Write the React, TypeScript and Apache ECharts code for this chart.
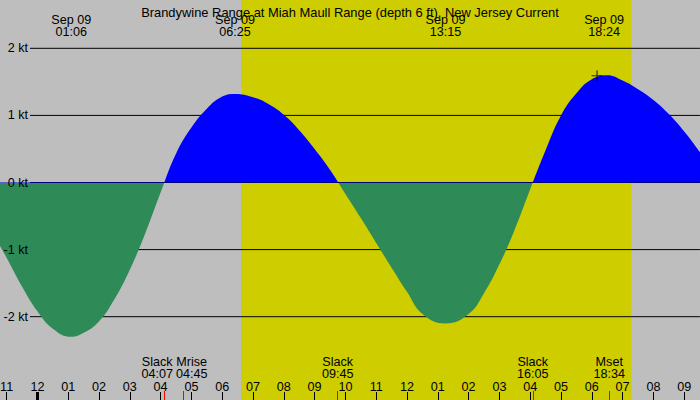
import { useEffect, useRef } from 'react'
import * as echarts from 'echarts'

const chartTitle =
  'Brandywine Range at Miah Maull Range (depth 6 ft), New Jersey Current'

// x values are hours from midnight of Sep 09 (negative = Sep 08),
// half-hourly readings plus the labelled maxima
const curveHours = [
  -1.5, -1, -0.5, 0, 0.5, 1.1, 1.5, 2, 2.5, 3, 3.5, 4, 4.5, 5, 5.5, 6, 6.42, 7,
  7.5, 8, 8.5, 9, 9.5, 10, 10.5, 11, 11.5, 12, 12.5, 13.25, 14, 14.5, 15, 15.5,
  16, 16.5, 17, 17.5, 18, 18.5, 19, 19.5, 20, 20.5, 21, 21.5, 22
]
const curveKnots = [
  -0.72, -1.12, -1.55, -1.92, -2.18, -2.3, -2.24, -2.07, -1.74, -1.3, -0.76,
  -0.15, 0.43, 0.82, 1.1, 1.28, 1.32, 1.27, 1.17, 1.01, 0.78, 0.5, 0.19, -0.17,
  -0.53, -0.9, -1.27, -1.63, -1.96, -2.1, -1.96, -1.65, -1.22, -0.7, -0.1,
  0.48, 1.0, 1.33, 1.54, 1.6, 1.52, 1.39, 1.23, 1.02, 0.76, 0.46, 0.15
]

const extremeDates = ['Sep 09', 'Sep 09', 'Sep 09', 'Sep 09']
const extremeTimes = ['01:06', '06:25', '13:15', '18:24']

const eventNames = ['Slack', 'Mrise', 'Slack', 'Slack', 'Mset']
const eventTimes = ['04:07', '04:45', '09:45', '16:05', '18:34']

const knotTicks = [-2, -1, 0, 1, 2]
const midnight = '00:00'
const sunrise = '06:37'
const sunset = '19:17'
const plusMark = [18.17, 1.59]

const floodColor = '#0000ff'
const ebbColor = '#2e8b57'

const toHours = (t: string) => {
  const [h, m] = t.split(':').map(Number)
  return h + m / 60
}

// crowded labels are nudged apart
const eventOffsets = [-7, 8, 0, 0, 0]

const hourLabel = (v: number) => {
  const h = ((Math.round(v) % 24) + 24) % 24
  const h12 = h % 12 === 0 ? 12 : h % 12
  return String(h12).padStart(2, '0')
}

const font = 'Liberation Sans'
const textBase = { fontFamily: font, fontSize: 12.6, color: '#000' }

// grid spans whole hours / knots, partly beyond the 700x400 canvas
const gridX = { left: -24.2, right: -15 }

function App() {
  const chartRef = useRef<HTMLDivElement>(null)

  useEffect(() => {
    if (!chartRef.current) return
    const chart = echarts.init(chartRef.current, null, { renderer: 'svg' })

    const gridSeries = knotTicks.map((k) => ({
      type: 'line' as const,
      z: 2,
      silent: true,
      showSymbol: false,
      lineStyle: { color: '#000', width: 1 },
      data: [
        [-0.24, k],
        [21.51, k]
      ]
    }))

    const eventTicks = eventTimes.map((t) => [
      { xAxis: toHours(t), y: 391 },
      { xAxis: toHours(t), y: 400 }
    ])

    const option: any = {
      animation: false,
      backgroundColor: '#bebebe',
      textStyle: { fontFamily: font, color: '#000' },
      title: {
        text: chartTitle,
        left: 'center',
        top: 1,
        textStyle: { ...textBase, fontSize: 12.9, fontWeight: 'normal' }
      },
      grid: [
        {
          ...gridX,
          top: -18.8,
          bottom: -50.9,
          containLabel: false,
          outerBoundsMode: 'none'
        },
        {
          ...gridX,
          top: 0,
          bottom: 0,
          containLabel: false,
          outerBoundsMode: 'none'
        }
      ],
      xAxis: [
        {
          type: 'value',
          gridIndex: 0,
          min: -2,
          max: 22,
          interval: 1,
          show: false
        },
        {
          type: 'value',
          gridIndex: 1,
          min: -2,
          max: 22,
          interval: 1,
          position: 'bottom',
          z: 10,
          axisLine: { show: false },
          splitLine: { show: false },
          axisTick: {
            inside: true,
            length: 8,
            lineStyle: { color: '#000', width: 1 }
          },
          axisLabel: {
            ...textBase,
            inside: true,
            margin: 7,
            formatter: hourLabel
          }
        }
      ],
      yAxis: [
        {
          type: 'value',
          gridIndex: 0,
          min: -4,
          max: 3,
          interval: 1,
          z: 10,
          axisLine: { show: false },
          axisTick: { show: false },
          splitLine: { show: false },
          axisLabel: {
            ...textBase,
            inside: true,
            margin: 52.2,
            align: 'right',
            formatter: (v: number) => (knotTicks.includes(v) ? `${v} kt` : '')
          }
        },
        { type: 'value', gridIndex: 1, min: 0, max: 1, show: false }
      ],
      series: [
        {
          id: 'tide',
          type: 'line',
          z: 5,
          smooth: 0.45,
          showSymbol: false,
          silent: true,
          lineStyle: { width: 0 },
          areaStyle: { opacity: 1, color: floodColor },
          data: curveHours.map((h, i) => [h, curveKnots[i]]),
          markLine: {
            z: 8,
            silent: true,
            symbol: 'none',
            label: { show: false },
            lineStyle: { color: '#ff0000', width: 1, type: 'solid' },
            data: [
              ...eventTicks,
              [
                {
                  xAxis: toHours(midnight),
                  y: 392,
                  lineStyle: { color: '#000', width: 3 }
                },
                { xAxis: toHours(midnight), y: 400 }
              ]
            ]
          },
          markPoint: {
            z: 8,
            silent: true,
            symbol: 'circle',
            symbolSize: 1,
            itemStyle: { color: 'rgba(0,0,0,0)' },
            label: { ...textBase, position: 'inside', lineHeight: 12 },
            data: [
              ...extremeTimes.map((t, i) => ({
                xAxis: toHours(t),
                y: 25.5,
                label: { formatter: `${extremeDates[i]}\n${t}` }
              })),
              ...eventTimes.map((t, i) => ({
                xAxis: toHours(t),
                y: 367.5,
                label: {
                  formatter: `${eventNames[i]}\n${t}`,
                  offset: [eventOffsets[i], 0],
                  lineHeight: 12
                }
              }))
            ]
          }
        },
        {
          type: 'scatter',
          z: 6,
          silent: true,
          symbol: 'path://M4.5,0h1v4.5h4.5v1h-4.5v4.5h-1v-4.5h-4.5v-1h4.5z',
          symbolSize: 11,
          itemStyle: { color: '#000' },
          data: [plusMark]
        },
        // daylight band, full height of the second grid
        {
          type: 'line',
          xAxisIndex: 1,
          yAxisIndex: 1,
          z: 1,
          silent: true,
          showSymbol: false,
          lineStyle: { width: 0 },
          areaStyle: { opacity: 1, color: '#cdcd00', origin: 'start' },
          data: [
            [toHours(sunrise), 1],
            [toHours(sunset), 1]
          ]
        },
        ...gridSeries
      ]
    }

    chart.setOption(option)

    // flood above slack line, ebb below it
    const zeroY = chart.convertToPixel({ xAxisIndex: 0, yAxisIndex: 0 }, [0, 0])[1]
    const h = chart.getHeight()
    const cut = Math.min(Math.max(zeroY / h, 0), 1)
    chart.setOption({
      series: [
        {
          id: 'tide',
          areaStyle: {
            opacity: 1,
            color: {
              type: 'linear',
              x: 0,
              y: 0,
              x2: 0,
              y2: h,
              global: true,
              colorStops: [
                { offset: 0, color: floodColor },
                { offset: cut, color: floodColor },
                { offset: cut, color: ebbColor },
                { offset: 1, color: ebbColor }
              ]
            }
          }
        }
      ]
    })

    return () => {
      chart.dispose()
    }
  }, [])

  return (
    <div
      ref={chartRef}
      style={{ position: 'fixed', left: 0, top: 0, width: 700, height: 400 }}
    />
  )
}

export default App
